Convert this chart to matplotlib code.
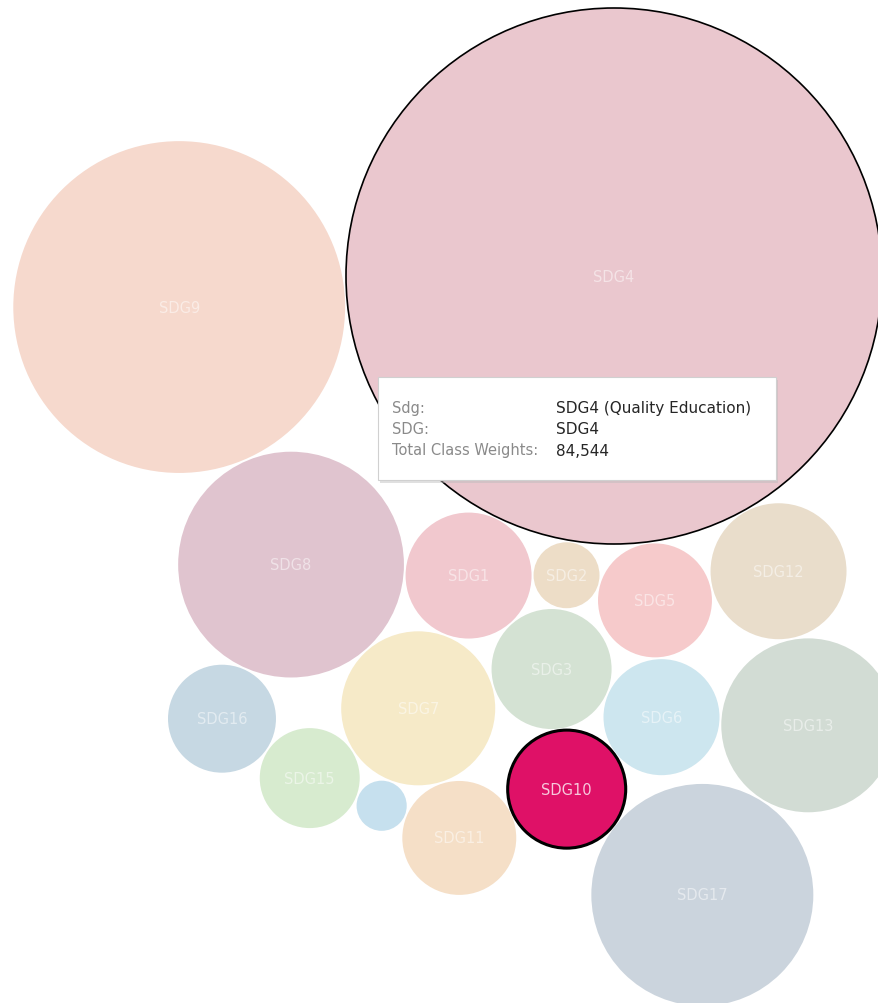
import numpy as np
import matplotlib
matplotlib.use("Agg")
import matplotlib.pyplot as plt
from matplotlib.patches import Circle, Rectangle

plt.rcParams['font.family'] = ['DejaVu Sans']

# ---- data ----
sdg_names = ["SDG4", "SDG9", "SDG8", "SDG17", "SDG13", "SDG7", "SDG12", "SDG1",
             "SDG3", "SDG10", "SDG6", "SDG5", "SDG11", "SDG16", "SDG15", "SDG2", "SDG14"]
class_weights = [84544, 32400, 15000, 14500, 8900, 6980, 5440, 4670,
                 4240, 4100, 3960, 3820, 3820, 3430, 2940, 1280, 740]
fill_colors = {
    "SDG4": "#EAC7CE", "SDG9": "#F6D9CD", "SDG8": "#E0C4CF", "SDG17": "#CBD4DD",
    "SDG13": "#D2DCD4", "SDG7": "#F6EAC8", "SDG12": "#E9DDCB", "SDG1": "#F1C8CE",
    "SDG3": "#D4E2D3", "SDG10": "#DF1167", "SDG6": "#CDE6EF", "SDG5": "#F6CACB",
    "SDG11": "#F5DFC7", "SDG16": "#C6D8E3", "SDG15": "#D7EBCF", "SDG2": "#EDDDC7",
    "SDG14": "#C6E0EE",
}
label_hidden = {"SDG14"}
highlight = "SDG10"
tooltip_rows = [("Sdg:", "SDG4 (Quality Education)"),
                ("SDG:", "SDG4"),
                ("Total Class Weights:", "84,544")]

# ---- layout: packed circles, each tangent to two earlier ones ----
first_angle_deg = -82.8   # direction of SDG5 from SDG4
gap_px = 2.0
placement = [
    ("SDG5", "SDG4", None, 0),
    ("SDG2", "SDG4", "SDG5", -1),
    ("SDG1", "SDG4", "SDG2", -1),
    ("SDG12", "SDG4", "SDG5", +1),
    ("SDG3", "SDG1", "SDG2", -1),
    ("SDG6", "SDG5", "SDG3", +1),
    ("SDG13", "SDG12", "SDG6", +1),
    ("SDG7", "SDG1", "SDG3", -1),
    ("SDG8", "SDG1", "SDG7", -1),
    ("SDG9", "SDG4", "SDG8", -1),
    ("SDG10", "SDG3", "SDG6", -1),
    ("SDG11", "SDG7", "SDG10", -1),
    ("SDG14", "SDG7", "SDG11", -1),
    ("SDG15", "SDG7", "SDG14", -1),
    ("SDG16", "SDG8", "SDG15", -1),
    ("SDG17", "SDG10", "SDG13", -1),
]

radius = {n: np.sqrt(v) for n, v in zip(sdg_names, class_weights)}
px_per_unit = 268 / radius["SDG4"]
gap = gap_px / px_per_unit

center = {"SDG4": np.array([0.0, 0.0])}
for name, a, b, side in placement:
    rc = radius[name]
    if b is None:
        ang = np.deg2rad(first_angle_deg)
        center[name] = center[a] + (radius[a] + rc + gap) * np.array([np.cos(ang), np.sin(ang)])
        continue
    A, B = center[a], center[b]
    dA, dB = radius[a] + rc + gap, radius[b] + rc + gap
    v = B - A
    d = np.hypot(*v)
    u = v / d
    along = (dA**2 - dB**2 + d**2) / (2 * d)
    h = np.sqrt(max(dA**2 - along**2, 0.0))
    perp = np.array([-u[1], u[0]])
    center[name] = A + along * u + side * h * perp

# ---- figure ----
W, H = 879, 1004
fig = plt.figure(figsize=(W / 100, H / 100), dpi=100)
ax = fig.add_axes([0, 0, 1, 1])
ax.set_axis_off()

anchor_px = (614, 277)  # where SDG4 sits in the picture
ax.set_xlim(-anchor_px[0] / px_per_unit, (W - anchor_px[0]) / px_per_unit)
ax.set_ylim(-(H - anchor_px[1]) / px_per_unit, anchor_px[1] / px_per_unit)
ax.set_aspect('equal')

for n in sdg_names:
    cx, cy = center[n]
    is_hl = n == highlight
    ec = "black" if (is_hl or n == "SDG4") else "none"
    lw = 2.2 if is_hl else (1.2 if n == "SDG4" else 0)
    ax.add_patch(Circle((cx, cy), radius[n], facecolor=fill_colors[n],
                        edgecolor=ec, linewidth=lw, zorder=2))
    if n not in label_hidden:
        col = "#F7C9DC" if is_hl else "white"
        alpha = 1.0 if is_hl else 0.5
        ax.text(cx, cy, n, ha='center', va='center', fontsize=10.5,
                color=col, alpha=alpha, zorder=3)

# ---- tooltip ----
def fx(x):
    return x / W

def fy(y):
    return 1 - y / H

tx0, ty0, tx1, ty1 = 378, 378, 776, 481
fig.patches.append(Rectangle((fx(tx0 + 2), fy(ty1 + 3)), fx(tx1 - tx0), (ty1 - ty0) / H,
                             transform=fig.transFigure, facecolor="#BBBBBB",
                             edgecolor="none", alpha=0.45, zorder=5))
fig.patches.append(Rectangle((fx(tx0), fy(ty1)), fx(tx1 - tx0), (ty1 - ty0) / H,
                             transform=fig.transFigure, facecolor="white",
                             edgecolor="#D0D0D0", linewidth=0.8, zorder=6))
for i, (k, v) in enumerate(tooltip_rows):
    yy = fy(409 + i * 21)
    fig.text(fx(392), yy, k, ha='left', va='center', fontsize=10.5,
             color="#8A8A8A", zorder=7)
    fig.text(fx(556), yy, v, ha='left', va='center', fontsize=11,
             color="#262626", zorder=7)

fig.savefig("out.png", dpi=100, facecolor="white")
